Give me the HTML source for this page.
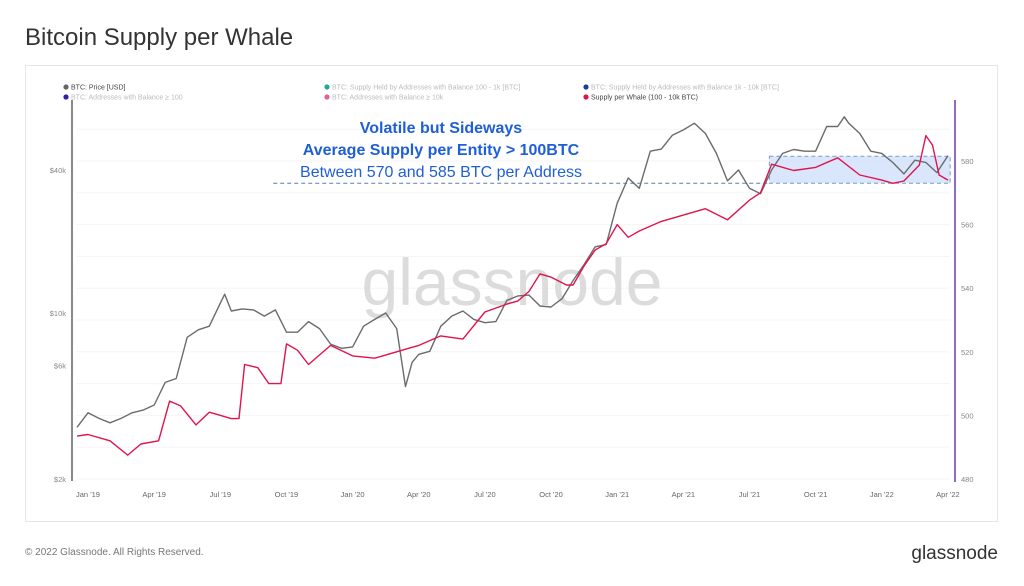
<!DOCTYPE html>
<html><head><meta charset="utf-8">
<style>
html,body{margin:0;padding:0;background:#fff;width:1024px;height:586px;overflow:hidden;font-family:"Liberation Sans",sans-serif;}
</style></head>
<body>
<svg id="chart" width="1024" height="586" xmlns="http://www.w3.org/2000/svg">
<text x="25" y="45" font-size="24" fill="#333">Bitcoin Supply per Whale</text>
<rect x="25.5" y="65.5" width="972" height="456" fill="#fff" stroke="#e6e6e6"/>
<g id="legend" font-size="7">
 <g><circle cx="66" cy="87" r="2.6" fill="#666"/><text x="71" y="89.5" fill="#444">BTC: Price [USD]</text></g>
 <g><circle cx="327" cy="87" r="2.6" fill="#26a69a"/><text x="332" y="89.5" fill="#bbb">BTC: Supply Held by Addresses with Balance 100 - 1k [BTC]</text></g>
 <g><circle cx="586" cy="87" r="2.6" fill="#1e3a9e"/><text x="591" y="89.5" fill="#bbb">BTC: Supply Held by Addresses with Balance 1k - 10k [BTC]</text></g>
 <g><circle cx="66" cy="97" r="2.6" fill="#3b1aa8"/><text x="71" y="99.5" fill="#bbb">BTC: Addresses with Balance ≥ 100</text></g>
 <g><circle cx="327" cy="97" r="2.6" fill="#e0609a"/><text x="332" y="99.5" fill="#bbb">BTC: Addresses with Balance ≥ 10k</text></g>
 <g><circle cx="586" cy="97" r="2.6" fill="#e0144c"/><text x="591" y="99.5" fill="#444">Supply per Whale (100 - 10k BTC)</text></g>
</g>
<g id="grid"></g>
<text x="512" y="305" font-size="66" fill="#dcdcdc" text-anchor="middle">glassnode</text>
<g id="annot"></g>
<g id="series"></g>
<g id="axes"></g>
<g font-family="Liberation Sans, sans-serif">
<text x="25" y="555" font-size="10" fill="#777">© 2022 Glassnode. All Rights Reserved.</text>
<text x="998" y="559" font-size="19" fill="#333" text-anchor="end">glassnode</text>
</g>
</svg>
<script>
// months since Jan 1 2019
const priceMonths=[-0.5,0,0.5,1,1.5,2,2.5,3,3.5,4,4.5,5,5.5,6,6.2,6.5,7,7.5,8,8.5,9,9.5,10,10.5,11,11.5,12,12.5,13,13.5,14,14.4,14.7,15,15.5,16,16.5,17,17.5,18,18.5,19,19.5,20,20.5,21,21.5,22,22.5,23,23.5,24,24.5,25,25.5,26,26.5,27,27.5,28,28.5,29,29.5,30,30.5,31,31.5,32,32.5,33,33.5,34,34.3,34.5,35,35.5,36,36.5,37,37.5,38,38.5,39];
const priceValues=[3300,3800,3600,3450,3600,3800,3900,4100,5100,5300,7900,8500,8800,11000,12000,10200,10400,10300,9700,10300,8300,8300,9200,8600,7400,7100,7200,8800,9400,10000,8600,4900,6200,6700,6900,8800,9700,10200,9400,9100,9200,11300,11800,11900,10700,10600,11500,13700,16000,19000,19400,29000,37000,33500,48000,49000,56000,59000,63000,57000,47000,36000,40000,33500,31800,40000,47000,48800,48000,48000,61000,61000,67000,63000,57000,48000,47000,43000,38500,44000,43000,39000,46000];
const whaleMonths=[-0.5,0,1,1.8,2.4,3.2,3.7,4.2,4.9,5.5,6.5,6.85,7.1,7.7,8.2,8.75,9,9.5,10,11,12,13,14,14.5,15,16,17,18,19,19.5,20,20.5,21,21.7,22,22.5,23,23.5,24,24.5,25,26,27,28,29,30,30.5,31,32,33,34,35,36,36.5,37,37.7,38,38.3,38.6,39];
const whaleValues=[493.5,494,492,487.5,491,492,504.5,503,497,501,499,499,516,515,510,510,522.5,520.5,516,522,518.7,518,520,521,522,525,524,532.5,535,536,539,544.5,543.5,541,541,547,552,554,560,556,558,561,563,565,561.5,567.7,570,579,577,578,581,575.6,574,573,573.7,578.7,588,585,575.6,574];
const priceTicks=[2000,6000,10000,40000];
const priceTickLabels=["$2k","$6k","$10k","$40k"];
const whaleTicks=[480,500,520,540,560,580];
const dateTicks=[0,3,6,9,12,15,18,21,24,27,30,33,36,39];
const dateLabels=["Jan '19","Apr '19","Jul '19","Oct '19","Jan '20","Apr '20","Jul '20","Oct '20","Jan '21","Apr '21","Jul '21","Oct '21","Jan '22","Apr '22"];
const bandLow=573, bandHigh=581.5, bandStart=30.9, dashStart=8.4;

const NS="http://www.w3.org/2000/svg";
const x=m=>88+m*22.05;
const yP=v=>479-237.5*Math.log10(v/2000);
const yW=v=>479-(v-480)*3.18;
function mk(tag,attrs,parent){const e=document.createElementNS(NS,tag);for(const k in attrs)e.setAttribute(k,attrs[k]);parent.appendChild(e);return e;}
const grid=document.getElementById('grid'),axes=document.getElementById('axes'),series=document.getElementById('series'),annot=document.getElementById('annot');
for(let v=480;v<=590;v+=10){const l=mk('line',{x1:76,x2:950,y1:yW(v),y2:yW(v),stroke:'#f5f5f5','stroke-width':1},grid);

}
const la=mk('line',{x1:72,x2:72,y1:100,y2:481,stroke:'#888','stroke-width':2},axes);


const ra=mk('line',{x1:955,x2:955,y1:100,y2:482,stroke:'#8e6cc6','stroke-width':2},axes);


priceTicks.forEach((v,i)=>{const t=mk('text',{x:66,y:yP(v)+3,'font-size':7.5,fill:'#888','text-anchor':'end'},axes);t.textContent=priceTickLabels[i];

});
whaleTicks.forEach(v=>{const t=mk('text',{x:961,y:yW(v)+3,'font-size':7.5,fill:'#888'},axes);t.textContent=v;

});
dateTicks.forEach((m,i)=>{const t=mk('text',{x:x(m),y:497,'font-size':7.5,fill:'#666','text-anchor':'middle'},axes);t.textContent=dateLabels[i];

});
const band=mk('rect',{x:x(bandStart),y:yW(bandHigh),width:x(39.1)-x(bandStart),height:yW(bandLow)-yW(bandHigh),fill:'#cfe0fb','fill-opacity':0.8,stroke:'#7a9cc8','stroke-dasharray':'4 3','stroke-width':1},annot);


const dl=mk('line',{x1:x(dashStart),x2:x(bandStart),y1:yW(bandLow),y2:yW(bandLow),stroke:'#5a7fb0','stroke-dasharray':'4 3','stroke-width':1},annot);


const lines=[["Volatile but Sideways",133,'bold'],["Average Supply per Entity > 100BTC",155,'bold'],["Between 570 and 585 BTC per Address",177,'normal']];
lines.forEach(([s,yy,w])=>{const t=mk('text',{x:441,y:yy,'font-size':16,'font-weight':w,fill:'#1f5fd6','text-anchor':'middle'},annot);t.textContent=s;

});
const pp=priceMonths.map((m,i)=>x(m).toFixed(1)+','+yP(priceValues[i]).toFixed(1)).join(' ');
const pl=mk('polyline',{points:pp,fill:'none',stroke:'#6b6b6b','stroke-width':1.4,'stroke-linejoin':'round'},series);


const wp=whaleMonths.map((m,i)=>x(m).toFixed(1)+','+yW(whaleValues[i]).toFixed(1)).join(' ');
const wl=mk('polyline',{points:wp,fill:'none',stroke:'#e0144c','stroke-width':1.4,'stroke-linejoin':'round'},series);


</script>
</body></html>
